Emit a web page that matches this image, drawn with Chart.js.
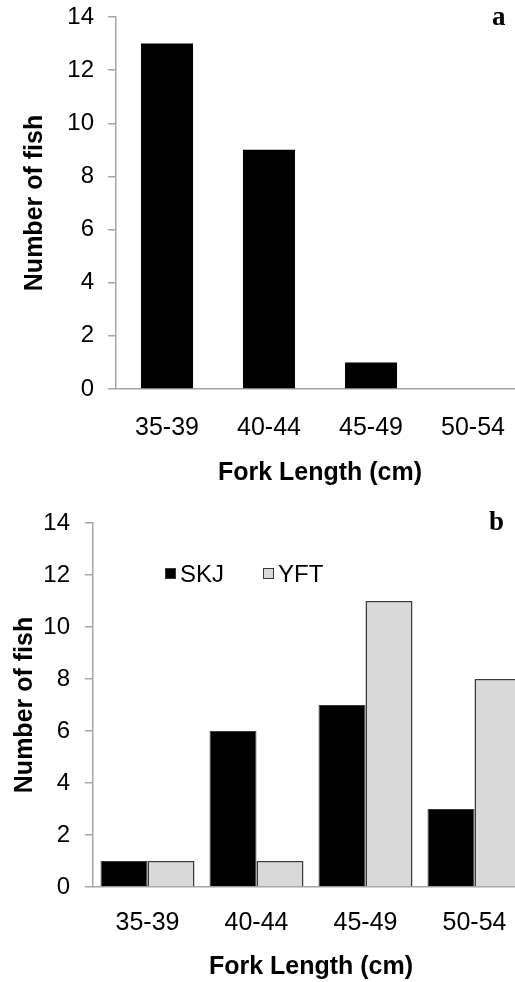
<!DOCTYPE html>
<html>
<head>
<meta charset="utf-8">
<script src="https://cdn.jsdelivr.net/npm/chart.js@4"></script>
<style>
  html, body { margin: 0; padding: 0; width: 515px; height: 982px; overflow: hidden; background: #fff; }
  canvas { position: absolute; left: 0; }
  #chartA { top: 0; }
  #chartB { top: 500px; }
  .panel { position: absolute; font: bold 27px "Liberation Serif", serif; color: #000; }
</style>
</head>
<body>
<canvas id="chartA" width="540" height="500"></canvas>
<canvas id="chartB" width="540" height="482"></canvas>
<span class="panel" style="left:492px; top:1px;">a</span>
<span class="panel" style="left:489px; top:506px;">b</span>
<script>
const lengthClasses = ["35-39", "40-44", "45-49", "50-54"];
const allFish = [13, 9, 1, 0];
const skjFish = [1, 6, 7, 3];
const yftFish = [1, 1, 11, 8];
const yTicks = [0, 2, 4, 6, 8, 10, 12, 14];

const axisGray = "#a6a6a6";
const sans = "'Liberation Sans', Arial, sans-serif";

// draws the little legend inside chart b
const insideLegend = {
  id: "insideLegend",
  afterDraw(chart, args, opts) {
    if (!opts.items) return;
    const ctx = chart.ctx;
    ctx.save();
    ctx.font = "24px " + sans;
    ctx.textBaseline = "middle";
    chart.data.datasets.forEach((ds, i) => {
      const it = opts.items[i];
      ctx.fillStyle = ds.backgroundColor;
      ctx.fillRect(it.x, opts.y - 6, 11, 11);
      ctx.strokeStyle = "#3a3a3a";
      ctx.lineWidth = 1;
      ctx.strokeRect(it.x + 0.5, opts.y - 5.5, 10, 10);
      ctx.fillStyle = "#000";
      ctx.fillText(ds.label, it.x + 15, opts.y + 1);
    });
    ctx.restore();
  }
};

function makeScales(cfg) {
  return {
    x: {
      afterFit: (s) => { s.height = cfg.xHeight; s.paddingLeft = 0; s.paddingRight = 0; },
      grid: { display: true, drawOnChartArea: false, drawTicks: false },
      border: { color: axisGray, width: 1.5 },
      ticks: { color: "#000", font: { family: sans, size: 25 }, padding: cfg.xTickPad, maxRotation: 0 },
      title: {
        display: true, text: "Fork Length (cm)", color: "#000",
        font: { family: sans, size: 25, weight: "bold" },
        padding: { top: 0, bottom: cfg.xTitlePad }
      }
    },
    y: {
      min: 0, max: 14,
      afterFit: (s) => { s.width = cfg.yWidth; s.paddingTop = 0; s.paddingBottom = 0; },
      afterBuildTicks: (s) => { s.ticks = yTicks.map((v) => ({ value: v })); },
      grid: { drawOnChartArea: false, drawTicks: true, tickLength: 8, color: axisGray, lineWidth: 1.5 },
      border: { color: axisGray, width: 1.5 },
      ticks: { color: "#000", font: { family: sans, size: 24 }, padding: cfg.yTickPad },
      title: {
        display: true, text: "Number of fish", color: "#000",
        font: { family: sans, size: 25, weight: "bold" },
        padding: { top: cfg.yTitlePad, bottom: 0 }
      }
    }
  };
}

new Chart(document.getElementById("chartA"), {
  type: "bar",
  data: {
    labels: lengthClasses,
    datasets: [{
      label: "All",
      data: allFish,
      backgroundColor: "#000",
      borderWidth: 0,
      barPercentage: 0.51,
      categoryPercentage: 1
    }]
  },
  options: {
    responsive: false,
    animation: false,
    layout: { padding: { top: 17, right: 16, left: 0, bottom: 0 } },
    plugins: { legend: { display: false }, tooltip: { enabled: false } },
    scales: makeScales({ xHeight: 111, xTickPad: 24, xTitlePad: 12, yWidth: 116, yTickPad: 14, yTitlePad: 20 })
  }
});

new Chart(document.getElementById("chartB"), {
  type: "bar",
  data: {
    labels: lengthClasses,
    datasets: [
      {
        label: "SKJ",
        data: skjFish,
        backgroundColor: "#000",
        borderColor: "#3a3a3a",
        borderWidth: 1,
        barPercentage: 1,
        categoryPercentage: 0.862
      },
      {
        label: "YFT",
        data: yftFish,
        backgroundColor: "#d9d9d9",
        borderColor: "#3a3a3a",
        borderWidth: 1.5,
        barPercentage: 1,
        categoryPercentage: 0.862
      }
    ]
  },
  options: {
    responsive: false,
    animation: false,
    layout: { padding: { top: 23, right: 11, left: 0, bottom: 0 } },
    plugins: {
      legend: { display: false },
      tooltip: { enabled: false },
      insideLegend: { y: 74, items: [{ x: 165 }, { x: 263 }] }
    },
    scales: makeScales({ xHeight: 95, xTickPad: 21, xTitlePad: 0, yWidth: 93, yTickPad: 15, yTitlePad: 10 })
  },
  plugins: [insideLegend]
});
</script>
</body>
</html>
